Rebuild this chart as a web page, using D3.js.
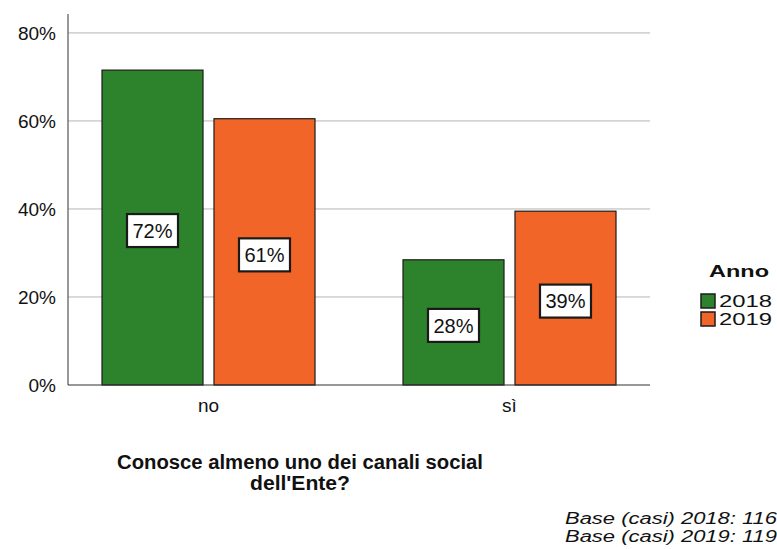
<!DOCTYPE html>
<html>
<head>
<meta charset="utf-8">
<script src="https://cdn.jsdelivr.net/npm/d3@7"></script>
<style>
  html, body { margin: 0; padding: 0; background: #fff; }
  svg { display: block; }
  text { font-family: "Liberation Sans", Arial, sans-serif; fill: #111; }
</style>
</head>
<body>
<svg id="chart" width="777" height="549"></svg>
<script>
// ---- data ----
const categories = ["no", "sì"];
const years = ["2018", "2019"];
const values2018 = [71.55, 28.45];
const values2019 = [60.504, 39.496];
const yTicks = [0, 20, 40, 60, 80];
const legendTitle = "Anno";
const titleLines = ["Conosce almeno uno dei canali social", "dell'Ente?"];
const baseLines = ["Base (casi) 2018: 116", "Base (casi) 2019: 119"];

const seriesValues = { "2018": values2018, "2019": values2019 };
const colors = { "2018": "#2c832c", "2019": "#f26529" };

const svg = d3.select("#chart");

const y = d3.scaleLinear().domain([0, 84.3]).range([385, 14]);
const x0 = d3.scaleBand().domain(categories).range([58, 660]);
const x1 = d3.scaleBand().domain(years).range([44, 257]).paddingInner(0.098);
const pct = v => d3.format(".0%")(v / 100);

const plotLeft = 68, plotRight = 650;

// gridlines
svg.append("g").selectAll("line").data(yTicks.filter(t => t > 0)).join("line")
  .attr("x1", plotLeft).attr("x2", plotRight)
  .attr("y1", d => y(d)).attr("y2", d => y(d))
  .attr("stroke", "#b4b4b4").attr("stroke-width", 1);

// y axis via d3.axisLeft (no tick lines)
const yAxis = svg.append("g").attr("transform", `translate(${plotLeft},0)`)
  .call(d3.axisLeft(y).tickValues(yTicks).tickSize(0).tickPadding(12).tickFormat(d => d + "%"));
yAxis.select(".domain").remove();
yAxis.selectAll("text").style("font-size", "19px").style("font-family", "\"Liberation Sans\", Arial, sans-serif").attr("fill", "#222");

svg.append("line").attr("x1", plotLeft).attr("x2", plotLeft)
  .attr("y1", y.range()[1]).attr("y2", y(0)).attr("stroke", "#555").attr("stroke-width", 1.2);

// bars
const rows = [];
categories.forEach((c, i) => years.forEach(yr => rows.push({ cat: c, year: yr, value: seriesValues[yr][i] })));

const groups = svg.append("g").selectAll("g").data(rows).join("g");
groups.append("rect")
  .attr("x", d => x0(d.cat) + x1(d.year))
  .attr("y", d => y(d.value))
  .attr("width", x1.bandwidth())
  .attr("height", d => y(0) - y(d.value))
  .attr("fill", d => colors[d.year])
  .attr("stroke", "#1c1c1c").attr("stroke-width", 1.2);

// baseline
svg.append("line").attr("x1", plotLeft).attr("x2", plotRight)
  .attr("y1", y(0)).attr("y2", y(0)).attr("stroke", "#333").attr("stroke-width", 1.2);

// value labels
const boxW = 51, boxH = 33;
groups.append("rect")
  .attr("x", d => x0(d.cat) + x1(d.year) + x1.bandwidth() / 2 - boxW / 2)
  .attr("y", d => (y(d.value) + y(0)) / 2 + 3 - boxH / 2)
  .attr("width", boxW).attr("height", boxH)
  .attr("fill", "#fff").attr("stroke", "#1a1a1a").attr("stroke-width", 2.2);
groups.append("text")
  .attr("x", d => x0(d.cat) + x1(d.year) + x1.bandwidth() / 2)
  .attr("y", d => (y(d.value) + y(0)) / 2 + 3)
  .attr("text-anchor", "middle").attr("dy", "0.36em")
  .style("font-size", "20px")
  .text(d => pct(d.value));

// category axis
const xAxis = svg.append("g").attr("transform", `translate(0,${y(0)})`)
  .call(d3.axisBottom(x0).tickSize(0).tickPadding(14));
xAxis.select(".domain").remove();
xAxis.selectAll("text").style("font-size", "19px").style("font-family", "\"Liberation Sans\", Arial, sans-serif").attr("fill", "#222");

// title
svg.append("g").selectAll("text").data(titleLines).join("text")
  .attr("x", 300).attr("y", (d, i) => 469 + i * 21)
  .attr("text-anchor", "middle")
  .style("font-size", "20px").style("font-weight", "bold")
  .attr("textLength", (d, i) => i === 0 ? 366 : 100)
  .attr("lengthAdjust", "spacingAndGlyphs")
  .text(d => d);

// base note
svg.append("g").selectAll("text").data(baseLines).join("text")
  .attr("x", 565).attr("y", (d, i) => 524 + i * 18)
  .style("font-size", "16px").style("font-style", "italic")
  .attr("textLength", 212)
  .attr("lengthAdjust", "spacingAndGlyphs")
  .text(d => d);

// legend
svg.append("text").attr("x", 709).attr("y", 277)
  .style("font-size", "17px").style("font-weight", "bold")
  .attr("textLength", 60).attr("lengthAdjust", "spacingAndGlyphs")
  .text(legendTitle);
const leg = svg.append("g").selectAll("g").data(years).join("g")
  .attr("transform", (d, i) => `translate(701,${294 + i * 18})`);
leg.append("rect").attr("width", 14).attr("height", 14)
  .attr("fill", d => colors[d]).attr("stroke", "#1c1c1c").attr("stroke-width", 1.5);
leg.append("text").attr("x", 18).attr("y", 13)
  .style("font-size", "16px")
  .attr("textLength", 53).attr("lengthAdjust", "spacingAndGlyphs")
  .text(d => d);
</script>
</body>
</html>
